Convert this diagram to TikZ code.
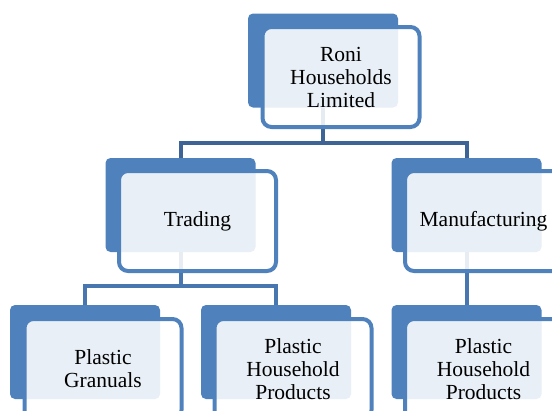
\documentclass[tikz,border=0pt]{standalone}
\usepackage{fontspec}
\setmainfont{Liberation Serif}
\usetikzlibrary{calc}
\definecolor{boxblue}{RGB}{79,129,189}
\definecolor{linkdark}{RGB}{62,100,150}
\definecolor{linkmid}{RGB}{72,118,175}
\tikzset{
  backbox/.style={fill=boxblue, rounded corners=5pt, minimum width=150pt, minimum height=94pt, inner sep=0pt},
  frontbox/.style={draw=boxblue, line width=4pt, fill=white, fill opacity=0.875, text opacity=1, rounded corners=9pt,
    minimum width=157pt, minimum height=100pt, align=center, font=\fontsize{21.5}{23}\selectfont},
  link/.style={line width=4pt}
}

\begin{document}
\begin{tikzpicture}[x=1pt,y=-1pt]
			\clip (0,0) rectangle (552,410);
			% back boxes
			\node[backbox] (roni) at (323,60.5) {};
			\node[backbox] (trading) at (180.5,205) {};
			\node[backbox] (manuf) at (466.5,205) {};
			\node[backbox] (granual) at (85,352) {};
			\node[backbox] (hhold) at (276,352) {};
			\node[backbox] (hholdm) at (466.5,352) {};
			% connectors
			\draw[link, linkdark] (roni.south) -- ++(0,35) -| (trading.north);
			\draw[link, linkdark] (roni.south) -- ++(0,35) -| (manuf.north);
			\draw[link, linkmid] (trading.south) -- ++(0,34) -| (granual.north);
			\draw[link, linkmid] (trading.south) -- ++(0,34) -| (hhold.north);
			\draw[link, linkmid] (manuf.south) -- (hholdm.north);
			% front boxes
			\node[frontbox] (roni-t) at ($(roni)+(18,16.5)$) {Roni\\Households\\Limited};
			\node[frontbox] (trading-t) at ($(trading)+(17,16)$) {Trading};
			\node[frontbox] (manuf-t) at ($(manuf)+(17,16)$) {Manufacturing};
			\node[frontbox] (granual-t) at ($(granual)+(18,17)$) {Plastic\\Granuals};
			\node[frontbox] (hhold-t) at ($(hhold)+(17,17)$) {Plastic\\Household\\Products};
			\node[frontbox] (hholdm-t) at ($(hholdm)+(17,17)$) {Plastic\\Household\\Products};
		\end{tikzpicture}
\end{document}
